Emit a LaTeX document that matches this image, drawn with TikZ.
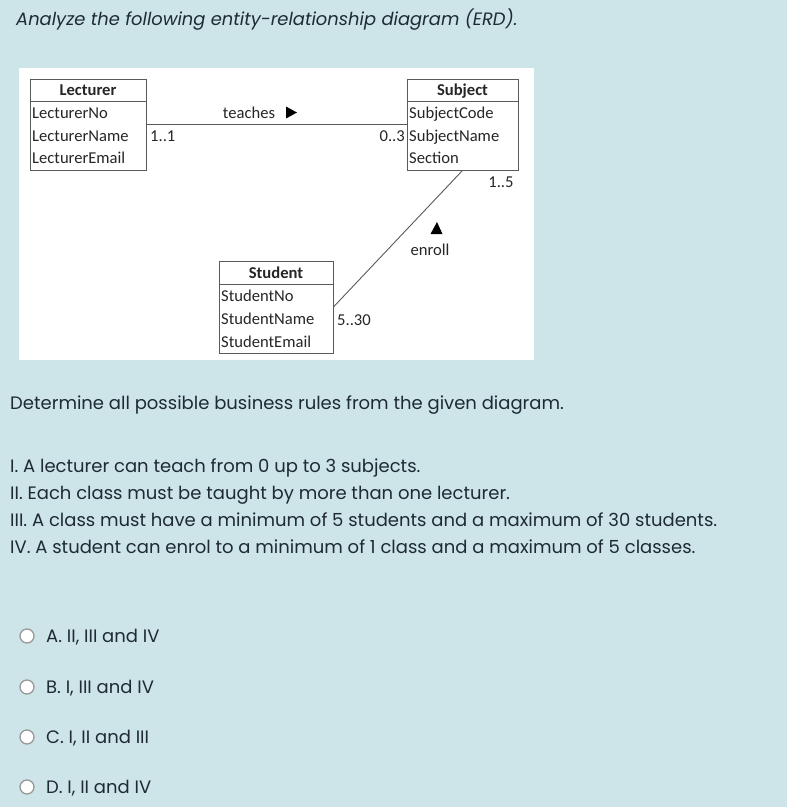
\documentclass[tikz,border=0pt]{standalone}
\usepackage{fontspec}
\setmainfont{Poppins}
\newfontfamily\erdfont{Carlito}
\definecolor{bg}{RGB}{205,228,233}
\definecolor{ink}{RGB}{30,42,52}
\definecolor{erdline}{RGB}{90,90,90}
\tikzset{
  ebox/.style={draw=erdline, line width=0.9pt, fill=white, inner sep=0pt},
  etxt/.style={font=\erdfont\fontsize{16.6}{19}\selectfont, text=black!85, inner sep=0pt, text height=11pt, text depth=3pt, yshift=-1.5pt},
  ehead/.style={etxt, font=\erdfont\bfseries\fontsize{16.6}{19}\selectfont},
  qtxt/.style={font=\fontsize{18}{21}\selectfont, text=ink, inner sep=0pt, anchor=west, text height=13pt, text depth=3.5pt, yshift=-1.8pt},
  conn/.style={draw=erdline, line width=0.9pt},
  radio/.style={circle, draw=gray!80, line width=1.3pt, fill=white, minimum size=14pt, inner sep=0pt}
}
\begin{document}
\begin{tikzpicture}[x=1pt,y=-1pt]
\useasboundingbox (0,0) rectangle (787,807);
\fill[bg] (0,0) rectangle (787,807);
% title
\node[qtxt, font=\itshape\fontsize{17.9}{21}\selectfont] (title) at (16,19) {Analyze the following entity-relationship diagram (ERD).};
% diagram panel
\fill[white] (19,68) rectangle (534,360);
% Lecturer
\node[ebox, minimum width=116pt, minimum height=91pt] (lect) at (88,124.5) {};
\draw[conn] (30,101) -- (146,101);
\node[ehead] (lecth) at (88,90) {Lecturer};
\node[etxt, anchor=west] (l1) at (32,113) {LecturerNo};
\node[etxt, anchor=west] (l2) at (32,136) {LecturerName};
\node[etxt, anchor=west] (l3) at (32,158) {LecturerEmail};
% Subject
\node[ebox, minimum width=111pt, minimum height=91pt] (subj) at (462.5,124.5) {};
\draw[conn] (407,101) -- (518,101);
\node[ehead] (subjh) at (462.5,90) {Subject};
\node[etxt, anchor=west] (s1) at (409,113) {SubjectCode};
\node[etxt, anchor=west] (s2) at (409,136) {SubjectName};
\node[etxt, anchor=west] (s3) at (409,158) {Section};
% Student
\node[ebox, minimum width=114pt, minimum height=92pt] (stud) at (276,307) {};
\draw[conn] (219,284) -- (333,284);
\node[ehead] (studh) at (276,273) {Student};
\node[etxt, anchor=west] (t1) at (221,296) {StudentNo};
\node[etxt, anchor=west] (t2) at (221,319) {StudentName};
\node[etxt, anchor=west] (t3) at (221,342) {StudentEmail};
% relationships
\draw[conn] (lect.east) -- (subj.west);
\draw[conn] (subj.south) -- (stud.east);
\node[etxt] (teach) at (249,113) {teaches};
\fill[black] (286,106.5) -- (297,112.5) -- (286,118.5) -- cycle;
\node[etxt, anchor=west] (m11) at (150,136) {1..1};
\node[etxt, anchor=east] (m03) at (405,136) {0..3};
\node[etxt] (m15) at (501,182) {1..5};
\fill[black] (430.5,234) -- (437,222) -- (442.5,234) -- cycle;
\node[etxt] (enr) at (430,250) {enroll};
\node[etxt, anchor=west] (m530) at (337,320) {5..30};
% question text
\node[qtxt] (det) at (10,403) {Determine all possible business rules from the given diagram.};
\node[qtxt] (r1) at (10,466) {I. A lecturer can teach from 0 up to 3 subjects.};
\node[qtxt] (r2) at (10,493) {II. Each class must be taught by more than one lecturer.};
\node[qtxt] (r3) at (10,520) {III. A class must have a minimum of 5 students and a maximum of 30 students.};
\node[qtxt] (r4) at (10,547) {IV. A student can enrol to a minimum of 1 class and a maximum of 5 classes.};
% options
\node[radio] (ca) at (27,636) {};
\node[qtxt] (oa) at (46,636) {A. II, III and IV};
\node[radio] (cb) at (27,687) {};
\node[qtxt] (ob) at (46,687) {B. I, III and IV};
\node[radio] (cc) at (27,737) {};
\node[qtxt] (oc) at (46,737) {C. I, II and III};
\node[radio] (cd) at (27,787) {};
\node[qtxt] (od) at (46,787) {D. I, II and IV};
\end{tikzpicture}
\end{document}
